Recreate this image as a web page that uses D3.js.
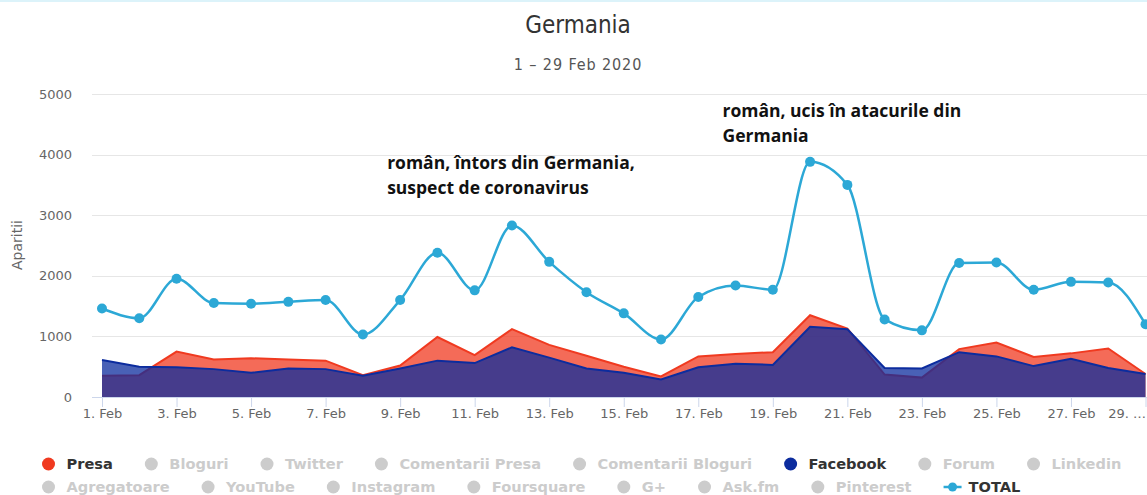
<!DOCTYPE html>
<html><head><meta charset="utf-8">
<script src="https://cdn.jsdelivr.net/npm/d3@7"></script>
<style>body{margin:0;background:#fff;} svg{display:block;}</style>
</head><body>
<svg id="c" width="1147" height="495"></svg>
<script>
// ---- data ----
const days = [1,2,3,4,5,6,7,8,9,10,11,12,13,14,15,16,17,18,19,20,21,22,23,24,25,26,27,28,29];
const presa    = [350,360,750,620,640,620,600,360,520,990,690,1120,860,680,500,340,670,710,740,1350,1130,370,320,790,900,660,720,800,380];
const facebook = [610,500,490,460,400,470,460,350,470,600,560,820,650,470,400,290,490,550,530,1160,1120,480,470,740,670,510,630,480,380];
const total    = [1460,1300,1950,1550,1540,1570,1600,1030,1600,2380,1760,2830,2230,1730,1380,950,1650,1840,1770,3880,3500,1280,1100,2210,2220,1770,1900,1890,1200];
const tickDays = [1,3,5,7,9,11,13,15,17,19,21,23,25,27,29];
const yTicks = [0,1000,2000,3000,4000,5000];
const legendNames = ["Presa","Bloguri","Twitter","Comentarii Presa","Comentarii Bloguri","Facebook","Forum","Linkedin","Agregatoare","YouTube","Instagram","Foursquare","G+","Ask.fm","Pinterest","TOTAL"];
const annotations = [
  {day: 9, value: 3760, lines: ["român, întors din Germania,", "suspect de coronavirus"]},
  {day: 18, value: 4620, lines: ["român, ucis în atacurile din", "Germania"]}
];
const titleText = "Germania";
const subtitleText = "1 – 29 Feb 2020";
const yTitle = "Aparitii";

// ---- styles ----
const colors = {Presa: "#f03a20", Facebook: "#0c2c9e", TOTAL: "#2ca8d6"};
const W = 1147, H = 495;
const plot = {left: 92, right: 1147, top: 94, bottom: 397};

const svg = d3.select("#c");
svg.append("rect").attr("x",0).attr("y",0).attr("width",W).attr("height",2).attr("fill","#dcf3fa");

const x = d3.scaleLinear().domain([1, 29]).range([102, 1145.5]);
const y = d3.scaleLinear().domain([0, 5000]).range([plot.bottom, plot.top]);

// titles
svg.append("text").attr("x", 578).attr("y", 33).attr("text-anchor","middle")
  .style("font-family","'DejaVu Sans Condensed','Liberation Sans Narrow','Open Sans',sans-serif")
  .style("font-size","24px").attr("fill","#333").text(titleText);
svg.append("text").attr("x", 578).attr("y", 70).attr("text-anchor","middle")
  .style("font-family","'DejaVu Sans Condensed','Liberation Sans Narrow','Open Sans',sans-serif")
  .style("font-size","16px").style("letter-spacing","0.9px").attr("fill","#555").text(subtitleText);

// grid
const grid = svg.append("g");
grid.selectAll("line").data(yTicks).join("line")
  .attr("x1", plot.left).attr("x2", plot.right)
  .attr("y1", d => Math.round(y(d)) + 0.5).attr("y2", d => Math.round(y(d)) + 0.5)
  .attr("stroke", d => d === 0 ? "#ccd6eb" : "#e6e6e6").attr("stroke-width", 1);

// y axis labels
const yAxis = d3.axisLeft(y).tickValues(yTicks).tickSize(0).tickPadding(0).tickFormat(d3.format("d"));
const gy = svg.append("g").attr("transform", `translate(72,0)`).call(yAxis);
gy.select(".domain").remove();
gy.selectAll("text").style("font-family","'DejaVu Sans',sans-serif").style("font-size","13px").attr("fill","#666");

svg.append("text").attr("transform","translate(22,245) rotate(-90)").attr("text-anchor","middle")
  .style("font-family","'DejaVu Sans',sans-serif").style("font-size","14px").attr("fill","#666").text(yTitle);

// x axis
const xAxis = d3.axisBottom(x).tickValues(tickDays).tickSize(10).tickPadding(2).tickFormat(d => d + ". Feb");
const gx = svg.append("g").attr("transform", `translate(0,${plot.bottom})`).call(xAxis);
gx.select(".domain").remove();
gx.selectAll(".tick line").attr("stroke","#ccd6eb");
gx.selectAll("text").style("font-family","'DejaVu Sans',sans-serif").style("font-size","13px").attr("fill","#666");
gx.selectAll("text").each(function(){
  const t = d3.select(this);
  const tx = +this.parentNode.getAttribute("transform").match(/translate\(([-\d.]+)/)[1];
  const b = this.getBBox();
  const origLeft = tx + b.x;
  if (origLeft + b.width > W - 1) {
    // ellipsize and keep inside the chart edge
    const avail = (W - 1) - (origLeft - 16);
    let s = t.text();
    t.attr("text-anchor","end").attr("x", W - 1 - tx);
    while (s.length > 1 && this.getComputedTextLength() > avail) {
      s = s.slice(0, -1).trimEnd();
      t.text(s + " …");
    }
  }
});

// clip
svg.append("clipPath").attr("id","clip").append("rect")
  .attr("x", plot.left).attr("y", 0).attr("width", plot.right - plot.left).attr("height", plot.bottom + 1);
const g = svg.append("g").attr("clip-path","url(#clip)");

function drawArea(vals, col) {
  const area = d3.area().x((d,i) => x(days[i])).y0(y(0)).y1(d => y(d));
  const line = d3.line().x((d,i) => x(days[i])).y(d => y(d));
  g.append("path").datum(vals).attr("d", area).attr("fill", col).attr("fill-opacity", 0.75);
  g.append("path").datum(vals).attr("d", line).attr("fill","none").attr("stroke", col).attr("stroke-width", 2);
}
drawArea(presa, colors.Presa);
drawArea(facebook, colors.Facebook);

const tline = d3.line().x((d,i) => x(days[i])).y(d => y(d)).curve(d3.curveMonotoneX);
g.append("path").datum(total).attr("d", tline).attr("fill","none").attr("stroke", colors.TOTAL).attr("stroke-width", 2.5);
g.selectAll("circle.m").data(total).join("circle").attr("class","m")
  .attr("cx",(d,i)=>x(days[i])).attr("cy", d=>y(d)).attr("r", 5).attr("fill", colors.TOTAL);

// annotations
annotations.forEach(a => {
  const ax = x(a.day) - 13;
  const t = svg.append("text").attr("x", ax).attr("y", y(a.value))
    .style("font-family","'Open Sans',Lato,sans-serif").style("font-weight","bold").style("font-size","17.5px").attr("fill","#111");
  a.lines.forEach((l, i) => t.append("tspan").attr("x", ax).attr("dy", i === 0 ? 0 : 25).text(l));
});

// legend
const lg = svg.append("g");
let lx = 42, ly = 464;
const itemDist = 32, maxX = 1140;
legendNames.forEach(name => {
  const active = colors[name] !== undefined;
  const it = lg.append("g");
  const txt = it.append("text").attr("y", 5)
    .style("font-family","'DejaVu Sans',sans-serif").style("font-weight","bold").style("font-size","14.6px")
    .attr("fill", active ? "#333" : "#ccc").text(name);
  const tw = txt.node().getComputedTextLength();
  const textX = name === "TOTAL" ? 25 : 24.5;
  if (lx + textX + tw > maxX) { lx = 42; ly += 23; }
  it.attr("transform", `translate(${lx},${ly})`);
  txt.attr("x", textX);
  if (name === "TOTAL") {
    it.append("line").attr("x1",0).attr("x2",18).attr("y1",0).attr("y2",0).attr("stroke",colors.TOTAL).attr("stroke-width",2.5);
    it.append("circle").attr("cx",9).attr("cy",0).attr("r",4.5).attr("fill",colors.TOTAL);
  } else {
    it.append("circle").attr("cx",6.5).attr("cy",0).attr("r",6.5).attr("fill", active ? colors[name] : "#ccc");
  }
  lx += textX + tw + itemDist;
});
</script>
</body></html>
